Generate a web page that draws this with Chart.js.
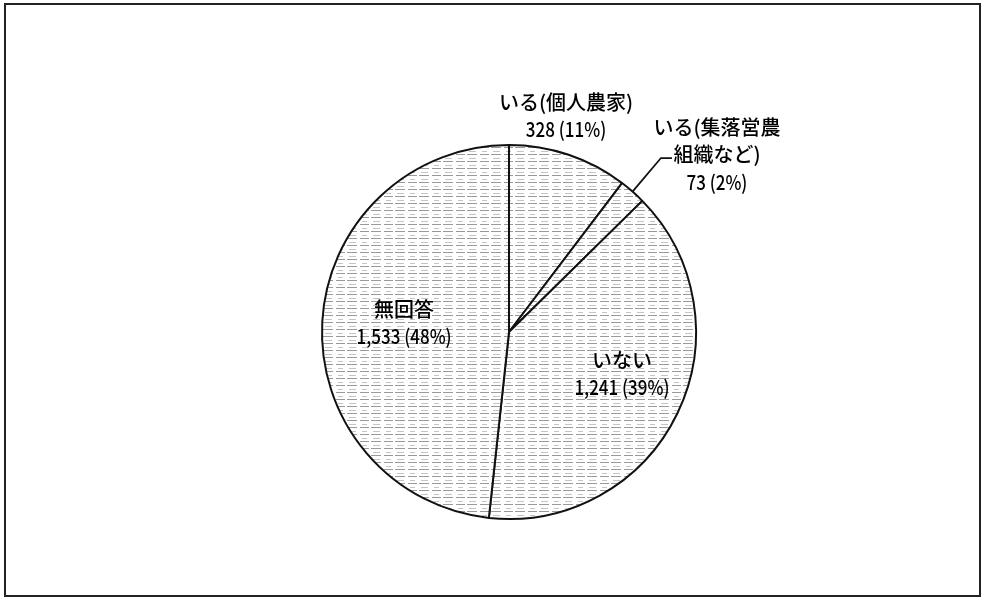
<!DOCTYPE html>
<html lang="ja">
<head>
    <meta charset="UTF-8">
    <title>Pie Chart</title>
    <script src="https://cdn.jsdelivr.net/npm/chart.js"></script>
    <style>
        html, body { margin: 0; padding: 0; background: #fff; }
        #wrap { position: relative; width: 986px; height: 601px; }
        #frame {
            position: absolute; left: 4px; top: 3px; width: 977px; height: 594px;
            border: 2px solid #222; box-sizing: border-box;
        }
        canvas { position: absolute; left: 0; top: 0; }
    </style>
</head>
<body>
    <div id="wrap">
        <div id="frame"></div>
        <canvas id="pie" width="986" height="601"></canvas>
    </div>

    <script>
        // data
        var categories = ['いる(個人農家)', 'いる(集落営農組織など)', 'いない', '無回答'];
        var counts = [328, 73, 1241, 1533];
        var percents = ['11%', '2%', '39%', '48%'];

        // label text lines and where they sit (in radius units from the centre)
        var labelLines = [
            ['いる(個人農家)', '328 (11%)'],
            ['いる(集落営農', '組織など)', '73 (2%)'],
            ['いない', '1,241 (39%)'],
            ['無回答', '1,533 (48%)']
        ];
        var labelPos = [[0.305, -1.155], [1.112, -0.949], [0.604, 0.225], [-0.561, -0.048]];

        // hatch fill similar to the scanned grey lines
        function makeHatch() {
            var c = document.createElement('canvas');
            c.width = 24; c.height = 7;
            var g = c.getContext('2d');
            g.fillStyle = '#fff';
            g.fillRect(0, 0, 24, 7);
            g.fillStyle = '#9a9a9a';
            g.fillRect(0, 0, 9, 1);
            g.fillRect(11, 0, 10, 1);
            g.fillStyle = '#c4c4c4';
            g.fillRect(2, 4, 5, 1);
            g.fillRect(13, 4, 7, 1);
            return g.createPattern(c, 'repeat');
        }
        var hatch = makeHatch();

        var labelPlugin = {
            id: 'pieLabels',
            afterDatasetsDraw: function(chart) {
                var ctx = chart.ctx;
                var arcs = chart.getDatasetMeta(0).data;
                var cx = arcs[0].x, cy = arcs[0].y, r = arcs[0].outerRadius;
                ctx.save();
                ctx.font = '500 20px "Noto Sans CJK JP", sans-serif';
                ctx.fillStyle = '#000';
                ctx.textAlign = 'center';
                ctx.textBaseline = 'middle';
                var lh = 27.5;
                labelLines.forEach(function(lines, i) {
                    var x = cx + labelPos[i][0] * r;
                    var y = cy + labelPos[i][1] * r - (lines.length - 1) * lh / 2;
                    lines.forEach(function(t, k) {
                        // number lines are narrower in the original
                        var w = ctx.measureText(t).width;
                        if (/^[0-9]/.test(t)) w *= 0.85;
                        ctx.fillText(t, x, y + k * lh, w);
                    });
                });

                // leader line for the small slice
                var a = arcs[1];
                var mid = (a.startAngle + a.endAngle) / 2;
                var px = cx + Math.cos(mid) * r, py = cy + Math.sin(mid) * r;
                var ex = cx + labelPos[1][0] * r - 56, ey = cy + labelPos[1][1] * r + 3.5;
                ctx.strokeStyle = '#111';
                ctx.lineWidth = 1.8;
                ctx.beginPath();
                ctx.moveTo(px, py);
                ctx.lineTo(ex, ey);
                ctx.lineTo(ex + 11, ey);
                ctx.stroke();
                ctx.restore();
            }
        };

        var ctx = document.getElementById('pie').getContext('2d');
        new Chart(ctx, {
            type: 'pie',
            data: {
                labels: categories,
                datasets: [{
                    data: counts,
                    backgroundColor: hatch,
                    borderColor: '#111',
                    borderWidth: 2,
                    borderAlign: 'center'
                }]
            },
            options: {
                responsive: false,
                animation: false,
                layout: { padding: { left: 321, right: 289, top: 144, bottom: 81 } },
                plugins: {
                    legend: { display: false },
                    tooltip: { enabled: false }
                }
            },
            plugins: [labelPlugin]
        });
    </script>
</body>
</html>
